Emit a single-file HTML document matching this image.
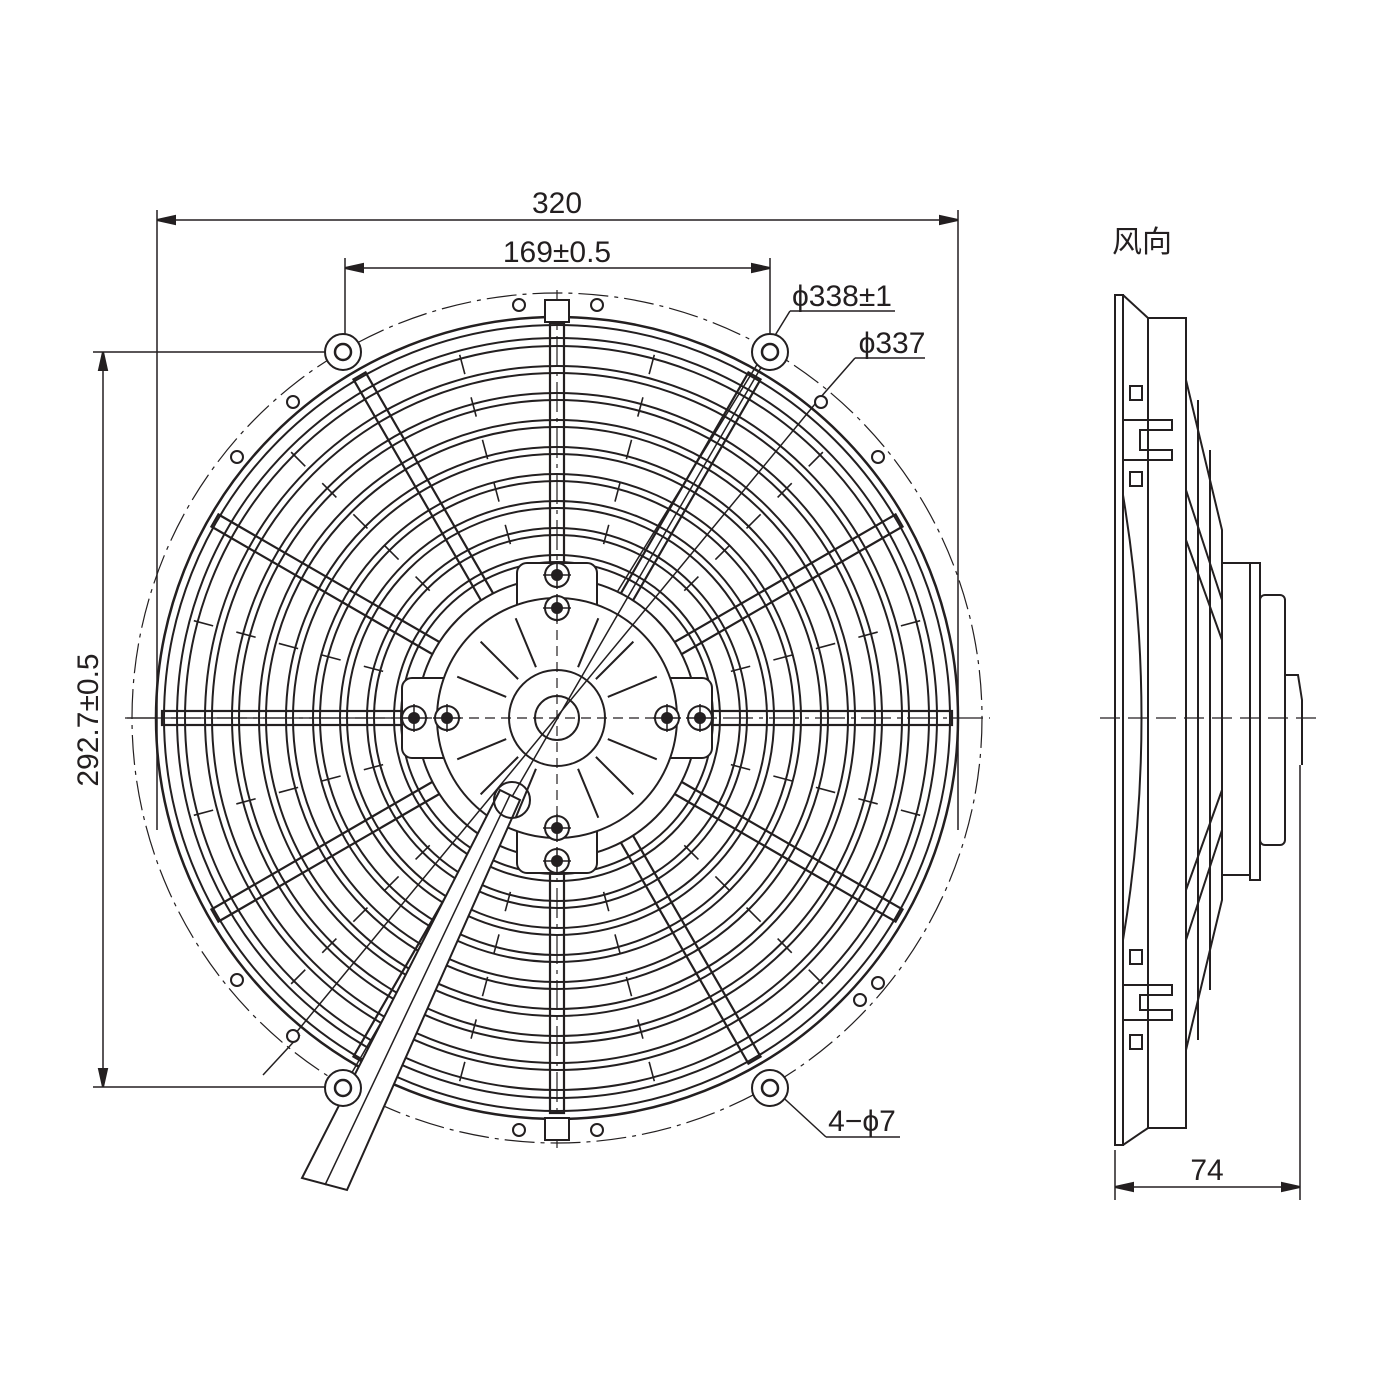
<!DOCTYPE html>
<html><head><meta charset="utf-8"><style>
html,body{margin:0;padding:0;background:#fff}
svg{display:block}
text{font-family:"Liberation Sans","Noto Sans CJK SC",sans-serif;fill:#231f20}
</style></head><body>
<svg width="1388" height="1388" viewBox="0 0 1388 1388" xmlns="http://www.w3.org/2000/svg">
<defs>
<g id="spoke"><rect x="-7" y="-395" width="14" height="270" fill="none" stroke="#231f20" stroke-width="2.2"/></g>
<g id="tick"><line x1="0" y1="-180" x2="0" y2="-390" stroke="#231f20" stroke-width="1.6" stroke-dasharray="20 24"/></g>
<g id="star"><line x1="0" y1="-55" x2="0" y2="-108" stroke="#231f20" stroke-width="2"/></g>
<g id="scr"><circle r="12" fill="#fff" stroke="#231f20" stroke-width="2"/><circle r="6" fill="#231f20"/><line x1="-14" x2="14" stroke="#231f20" stroke-width="1.5"/><line y1="-14" y2="14" stroke="#231f20" stroke-width="1.5"/></g>
<g id="hole"><circle r="18" fill="#fff" stroke="#231f20" stroke-width="2"/><circle r="8" fill="#fff" stroke="#231f20" stroke-width="2.5"/></g>
</defs>
<g fill="none" stroke="#231f20" stroke-width="2">
<!-- dimension lines -->
<line x1="157" y1="210" x2="157" y2="830" stroke-width="1.5"/>
<line x1="958" y1="210" x2="958" y2="830" stroke-width="1.5"/>
<line x1="157" y1="220" x2="958" y2="220" stroke-width="1.5"/>
<path d="M157 220 l18 -4 v8 z M958 220 l-18 -4 v8 z" fill="#231f20"/>
<line x1="345" y1="258" x2="345" y2="340" stroke-width="1.5"/>
<line x1="770" y1="258" x2="770" y2="340" stroke-width="1.5"/>
<line x1="345" y1="268" x2="770" y2="268" stroke-width="1.5"/>
<path d="M345 268 l18 -4 v8 z M770 268 l-18 -4 v8 z" fill="#231f20"/>
<line x1="93" y1="352" x2="330" y2="352" stroke-width="1.5"/>
<line x1="93" y1="1087" x2="330" y2="1087" stroke-width="1.5"/>
<line x1="103" y1="352" x2="103" y2="1087" stroke-width="1.5"/>
<path d="M103 352 l-4 18 h8 z M103 1087 l-4 -18 h8 z" fill="#231f20"/>
<line x1="790" y1="311" x2="895" y2="311" stroke-width="1.5"/>
<line x1="790" y1="311" x2="600" y2="620" stroke-width="1.5"/>
<line x1="855" y1="358" x2="925" y2="358" stroke-width="1.5"/>
<line x1="855" y1="358" x2="820" y2="398" stroke-width="1.5"/>
<line x1="826" y1="1137" x2="900" y2="1137" stroke-width="1.5"/>
<line x1="826" y1="1137" x2="775" y2="1090" stroke-width="1.5"/>
<line x1="263" y1="1075" x2="300" y2="1035" stroke-width="1.5"/>
<!-- center lines -->
<line x1="125" y1="718" x2="990" y2="718" stroke-width="1.2" stroke-dasharray="30 6 4 6"/>
<line x1="557" y1="290" x2="557" y2="1150" stroke-width="1.2" stroke-dasharray="30 6 4 6"/>
<circle cx="557" cy="718" r="425" stroke-width="1.2" stroke-dasharray="30 6 4 6"/>
<!-- outer rings -->
<circle cx="557" cy="718" r="401" stroke-width="2.5"/>
<circle cx="557" cy="718" r="393"/>
<circle cx="557" cy="718" r="380"/>
<circle cx="557" cy="718" r="372"/>
<circle cx="557" cy="718" r="352"/>
<circle cx="557" cy="718" r="345"/>
<circle cx="557" cy="718" r="325"/>
<circle cx="557" cy="718" r="318"/>
<circle cx="557" cy="718" r="298"/>
<circle cx="557" cy="718" r="291"/>
<circle cx="557" cy="718" r="271"/>
<circle cx="557" cy="718" r="264"/>
<circle cx="557" cy="718" r="244"/>
<circle cx="557" cy="718" r="237"/>
<circle cx="557" cy="718" r="217"/>
<circle cx="557" cy="718" r="210"/>
<circle cx="557" cy="718" r="190"/>
<circle cx="557" cy="718" r="183"/>
<circle cx="557" cy="718" r="163"/>
<circle cx="557" cy="718" r="156"/>
</g>
<g transform="translate(557,718)">
<g transform="rotate(15)"><use href="#tick"/></g><g transform="rotate(45)"><use href="#tick"/></g><g transform="rotate(75)"><use href="#tick"/></g><g transform="rotate(105)"><use href="#tick"/></g><g transform="rotate(135)"><use href="#tick"/></g><g transform="rotate(165)"><use href="#tick"/></g><g transform="rotate(195)"><use href="#tick"/></g><g transform="rotate(225)"><use href="#tick"/></g><g transform="rotate(255)"><use href="#tick"/></g><g transform="rotate(285)"><use href="#tick"/></g><g transform="rotate(315)"><use href="#tick"/></g><g transform="rotate(345)"><use href="#tick"/></g>
<g fill="#fff">
<g transform="rotate(0)"><use href="#spoke"/></g><g transform="rotate(30)"><use href="#spoke"/></g><g transform="rotate(60)"><use href="#spoke"/></g><g transform="rotate(90)"><use href="#spoke"/></g><g transform="rotate(120)"><use href="#spoke"/></g><g transform="rotate(150)"><use href="#spoke"/></g><g transform="rotate(180)"><use href="#spoke"/></g><g transform="rotate(210)"><use href="#spoke"/></g><g transform="rotate(240)"><use href="#spoke"/></g><g transform="rotate(270)"><use href="#spoke"/></g><g transform="rotate(300)"><use href="#spoke"/></g><g transform="rotate(330)"><use href="#spoke"/></g>
</g>
<!-- hub -->
<circle r="140" fill="#fff" stroke="#231f20" stroke-width="2"/>
<rect x="-40" y="-155" width="80" height="60" rx="10" fill="#fff" stroke="#231f20" stroke-width="2"/>
<rect x="-40" y="95" width="80" height="60" rx="10" fill="#fff" stroke="#231f20" stroke-width="2"/>
<rect x="-155" y="-40" width="60" height="80" rx="10" fill="#fff" stroke="#231f20" stroke-width="2"/>
<rect x="95" y="-40" width="60" height="80" rx="10" fill="#fff" stroke="#231f20" stroke-width="2"/>
<circle r="120" fill="#fff" stroke="#231f20" stroke-width="2"/>
<line x1="-125" y1="0" x2="-430" y2="0" stroke="#231f20" stroke-width="1.2"/>
<g transform="rotate(22.5)"><use href="#star"/></g><g transform="rotate(45)"><use href="#star"/></g><g transform="rotate(67.5)"><use href="#star"/></g><g transform="rotate(112.5)"><use href="#star"/></g><g transform="rotate(135)"><use href="#star"/></g><g transform="rotate(157.5)"><use href="#star"/></g><g transform="rotate(202.5)"><use href="#star"/></g><g transform="rotate(225)"><use href="#star"/></g><g transform="rotate(247.5)"><use href="#star"/></g><g transform="rotate(292.5)"><use href="#star"/></g><g transform="rotate(315)"><use href="#star"/></g><g transform="rotate(337.5)"><use href="#star"/></g>
<circle r="48" fill="#fff" stroke="#231f20" stroke-width="2"/>
<circle r="22" fill="#fff" stroke="#231f20" stroke-width="2"/>
<line x1="-120" y1="0" x2="120" y2="0" stroke="#231f20" stroke-width="1.2" stroke-dasharray="10 6"/>
<line x1="0" y1="-120" x2="0" y2="120" stroke="#231f20" stroke-width="1.2" stroke-dasharray="10 6"/>
<use href="#scr" x="0" y="-143"/><use href="#scr" x="0" y="-110"/>
<use href="#scr" x="0" y="110"/><use href="#scr" x="0" y="143"/>
<use href="#scr" x="-143" y="0"/><use href="#scr" x="-110" y="0"/>
<use href="#scr" x="110" y="0"/><use href="#scr" x="143" y="0"/>
</g>
<!-- cross lines -->
<line x1="770" y1="352" x2="343" y2="1088" stroke="#231f20" stroke-width="1.5"/>
<line x1="820" y1="398" x2="290" y2="1040" stroke="#231f20" stroke-width="1.5"/>
<!-- cable -->
<polygon points="500,790 520,800 347,1190 302,1178" fill="#fff" stroke="#231f20" stroke-width="2"/>
<line x1="510" y1="795" x2="325" y2="1185" stroke="#231f20" stroke-width="1.5"/>
<circle cx="512" cy="800" r="18" fill="none" stroke="#231f20" stroke-width="2"/>
<!-- mounting holes and tabs -->
<use href="#hole" x="343" y="352"/><use href="#hole" x="770" y="352"/>
<use href="#hole" x="343" y="1088"/><use href="#hole" x="770" y="1088"/>
<g fill="#fff" stroke="#231f20" stroke-width="2">
<rect x="545" y="300" width="24" height="22"/><rect x="545" y="1118" width="24" height="22"/>
<circle cx="519" cy="305" r="6"/><circle cx="597" cy="305" r="6"/>
<circle cx="519" cy="1130" r="6"/><circle cx="597" cy="1130" r="6"/>
<circle cx="293" cy="402" r="6"/><circle cx="237" cy="457" r="6"/><circle cx="821" cy="402" r="6"/><circle cx="878" cy="457" r="6"/>
<circle cx="293" cy="1036" r="6"/><circle cx="237" cy="980" r="6"/><circle cx="860" cy="1000" r="6"/><circle cx="878" cy="983" r="6"/>
</g>
<!-- side view -->
<g fill="none" stroke="#231f20" stroke-width="2">
<rect x="1115" y="295" width="8" height="850"/>
<path d="M1123 295 L1148 318 H1186 V1128 H1148 L1123 1145"/>
<line x1="1148" y1="318" x2="1148" y2="1128"/>
<path d="M1123 495 Q1160 718 1123 940"/>
<path d="M1186 380 L1222 530 V900 L1186 1050"/>
<line x1="1198" y1="400" x2="1198" y2="1040"/>
<line x1="1210" y1="450" x2="1210" y2="990"/>
<path d="M1186 490 L1222 600 M1186 540 L1222 640 M1186 890 L1222 790 M1186 940 L1222 830"/>
<rect x="1222" y="563" width="28" height="312"/>
<rect x="1250" y="563" width="10" height="317"/>
<rect x="1260" y="595" width="25" height="250" rx="5"/>
<path d="M1285 675 L1298 675 L1302 700 V765"/>
<line x1="1300" y1="765" x2="1300" y2="1200" stroke-width="1.5"/>
<line x1="1115" y1="1150" x2="1115" y2="1200" stroke-width="1.5"/>
<line x1="1115" y1="1187" x2="1300" y2="1187" stroke-width="1.5"/>
<path d="M1115 1187 l18 -4 v8 z M1300 1187 l-18 -4 v8 z" fill="#231f20"/>
<line x1="1100" y1="718" x2="1320" y2="718" stroke-width="1.2" stroke-dasharray="20 8"/>
<path d="M1123 420 H1172 V430 H1140 V450 H1172 V460 H1123"/>
<path d="M1123 985 H1172 V995 H1140 V1010 H1172 V1020 H1123"/>
<rect x="1130" y="386" width="12" height="14"/><rect x="1130" y="472" width="12" height="14"/>
<rect x="1130" y="950" width="12" height="14"/><rect x="1130" y="1035" width="12" height="14"/>
</g>
<!-- text -->
<text x="557" y="213" font-size="30" text-anchor="middle">320</text>
<text x="557" y="262" font-size="30" text-anchor="middle">169±0.5</text>
<text x="842" y="306" font-size="30" text-anchor="middle">ϕ338±1</text>
<text x="892" y="353" font-size="30" text-anchor="middle">ϕ337</text>
<text x="862" y="1131" font-size="30" text-anchor="middle">4−ϕ7</text>
<text x="1142" y="252" font-size="30" text-anchor="middle">风向</text>
<text x="1207" y="1180" font-size="30" text-anchor="middle">74</text>
<text transform="translate(98,720) rotate(-90)" font-size="30" text-anchor="middle">292.7±0.5</text>
</svg>
</body></html>
